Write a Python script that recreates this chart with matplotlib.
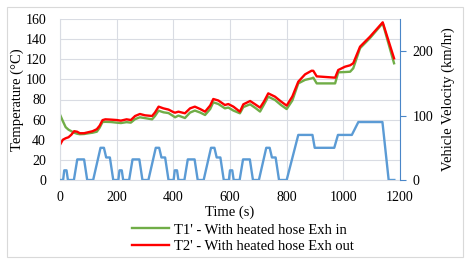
import matplotlib
matplotlib.use('Agg')
import matplotlib.pyplot as plt
from matplotlib.patches import Rectangle

plt.rcParams['font.family'] = ['Liberation Serif', 'DejaVu Serif']

# temperature samples
time_temp = [0, 10, 20, 30, 40, 50, 60, 70, 85, 100, 115, 130, 140, 150, 160, 180, 200, 215,
             235, 250, 265, 282, 300, 325, 335, 348, 365, 383, 400, 406, 418, 441, 459, 476,
             495, 512, 530, 541, 559, 582, 594, 612, 635, 647, 671, 690, 706, 720, 735, 759,
             780, 800, 820, 841, 865, 888, 894, 906, 971, 982, 1006, 1024, 1035, 1059, 1094,
             1139, 1179]
t1_in = [65, 58.5, 52.5, 50, 48.5, 47, 46, 45.5, 45.7, 46.4, 47, 48, 52, 57.6, 57.8, 57.6, 57, 56.6,
         57.5, 57, 60.5, 62.3, 61.5, 60.3, 63.5, 68.9, 67.3, 66.5, 63.5, 62.3, 64, 61.6, 67, 69,
         67, 64.6, 70.5, 77.2, 75.5, 71.2, 72, 69, 66.3, 72.5, 75.2, 71.5, 68, 75, 82.8, 79.5,
         74.5, 70.5, 79, 96, 99.5, 101, 101.7, 96, 96, 107, 107.3, 107.6, 111, 131, 141,
         155.8, 116]
t2_out = [35, 40, 41.5, 42.5, 45, 48.5, 48, 46.5, 46.5, 47.5, 48.5, 50.5, 54, 59.5, 60.3, 60, 59.6, 59,
          60.3, 59.6, 63.6, 65.6, 64.3, 63.6, 67, 72.9, 71.2, 70, 67.5, 66.9, 67.9, 66.3, 71.2, 72.9,
          70.5, 67.9, 74, 80.5, 79, 74.5, 75.5, 72.9, 67.9, 75.2, 78.5, 75, 71.9, 78, 86.1, 82.8,
          78, 73.9, 83, 97.7, 105, 108.6, 108.5, 103, 101.7, 109.3, 112.6, 114, 116, 132.5, 142.4,
          156.7, 120.9]

# vehicle speed profile (km/hr)
time_vel = [0, 11, 15, 23, 28, 49, 61, 85, 96, 117, 143, 155, 163, 176, 188,
            206, 210, 218, 223, 244, 256, 280, 291, 312, 338, 350, 358, 371, 383,
            401, 405, 413, 418, 439, 451, 475, 486, 507, 533, 545, 553, 566, 578,
            596, 600, 608, 613, 634, 646, 670, 681, 702, 728, 740, 748, 761, 773,
            800, 841, 891, 899, 968, 981, 1030, 1053, 1138, 1160, 1180]
velocity = [0, 0, 15, 15, 0, 0, 32, 32, 0, 0, 50, 50, 35, 35, 0,
            0, 15, 15, 0, 0, 32, 32, 0, 0, 50, 50, 35, 35, 0,
            0, 15, 15, 0, 0, 32, 32, 0, 0, 50, 50, 35, 35, 0,
            0, 15, 15, 0, 0, 32, 32, 0, 0, 50, 50, 35, 35, 0,
            0, 70, 70, 50, 50, 70, 70, 90, 90, 0, 0]

W, H = 470, 267
fig = plt.figure(figsize=(W/100, H/100), dpi=100)
fig.patches.append(Rectangle((7/W, 1-257/H), 456/W, 250/H, transform=fig.transFigure,
                             fill=False, edgecolor='#D9D9D9', lw=0.8))

ax = fig.add_axes([60/W, 1-180/H, 340/W, 161/H])
grid_c = '#D9DCE3'
ax.set_xlim(0, 1200)
ax.set_ylim(0, 160)
ax.set_xticks(range(0, 1201, 200))
ax.set_yticks(range(0, 161, 20))
ax.grid(color=grid_c, lw=0.8)
ax.set_axisbelow(True)
for s in ['top', 'right']:
    ax.spines[s].set_visible(False)
for s in ['left', 'bottom']:
    ax.spines[s].set_color(grid_c)
ax.tick_params(length=0, labelsize=10, colors='black')
ax.tick_params(axis='y', pad=10)
ax.tick_params(axis='x', pad=8)
ax.set_xlabel('Time (s)', fontsize=10.5, labelpad=1)
ax.set_ylabel('Temperature (°C)', fontsize=10.5, labelpad=1)

l1, = ax.plot(time_temp, t1_in, color='#70AD47', lw=1.7, label="T1' - With heated hose Exh in")
l2, = ax.plot(time_temp, t2_out, color='#FF0000', lw=1.7, label="T2' - With heated hose Exh out")

ax2 = ax.twinx()
ax2.set_ylim(0, 250)
ax2.set_yticks([0, 100, 200])
ax2.plot(time_vel, velocity, color='#5B9BD5', lw=1.7)
for s in ['top', 'left', 'bottom']:
    ax2.spines[s].set_visible(False)
ax2.spines['right'].set_color('#4A86C8')
ax2.tick_params(axis='y', length=4, color='#4A86C8', labelsize=10, pad=5)
ax2.set_ylabel('Vehicle Velocity (km/hr)', fontsize=10.5, labelpad=6)

fig.legend(handles=[l1, l2], loc='upper center', bbox_to_anchor=(243/W, 1-216/H),
           frameon=False, fontsize=10.5, handlelength=2.5, handletextpad=0.35,
           labelspacing=0.2, borderpad=0)

fig.savefig('out.png', dpi=100)
